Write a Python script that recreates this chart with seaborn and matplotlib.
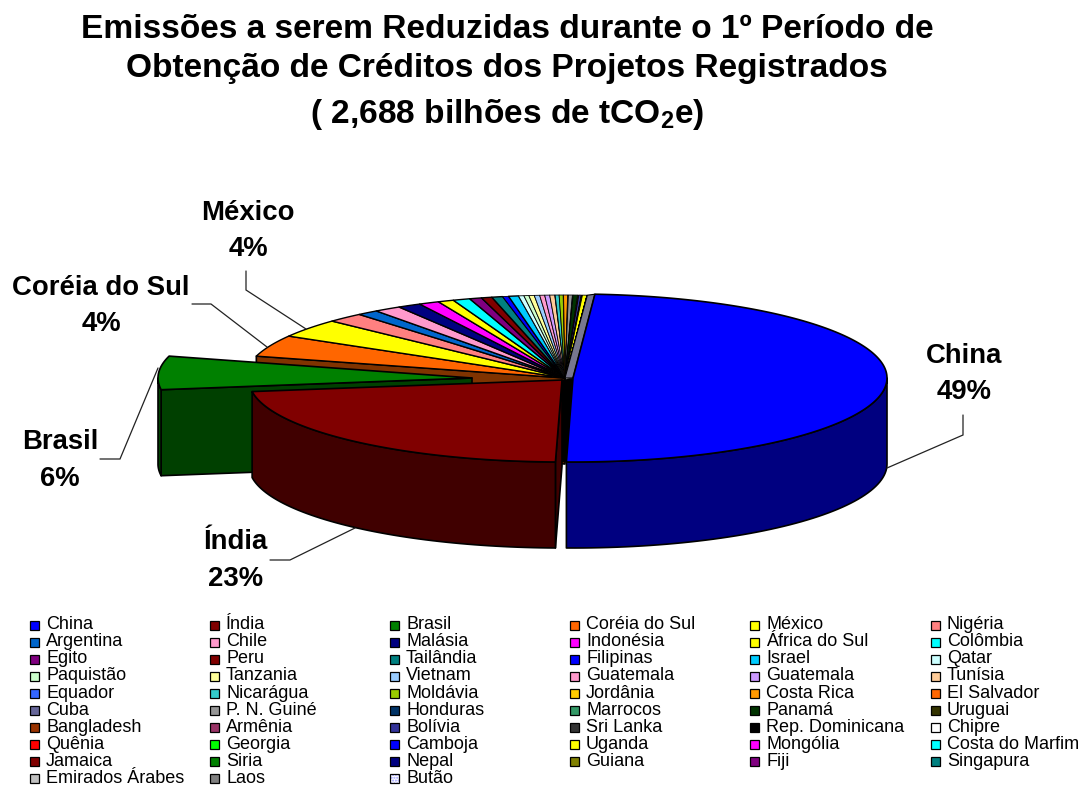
import numpy as np
import matplotlib
matplotlib.use("Agg")
import matplotlib.pyplot as plt
from matplotlib.patches import Polygon, Rectangle
from matplotlib.colors import to_rgb
import seaborn as sns

countries = [
    "China", "Índia", "Brasil", "Coréia do Sul", "México", "Nigéria",
    "Argentina", "Chile", "Malásia", "Indonésia", "África do Sul", "Colômbia",
    "Egito", "Peru", "Tailândia", "Filipinas", "Israel", "Qatar",
    "Paquistão", "Tanzania", "Vietnam", "Guatemala", "Guatemala", "Tunísia",
    "Equador", "Nicarágua", "Moldávia", "Jordânia", "Costa Rica", "El Salvador",
    "Cuba", "P. N. Guiné", "Honduras", "Marrocos", "Panamá", "Uruguai",
    "Bangladesh", "Armênia", "Bolívia", "Sri Lanka", "Rep. Dominicana", "Chipre",
    "Quênia", "Georgia", "Camboja", "Uganda", "Mongólia", "Costa do Marfim",
    "Jamaica", "Siria", "Nepal", "Guiana", "Fiji", "Singapura",
    "Emirados Árabes", "Laos", "Butão",
]
shares = [
    49.2, 22.4, 6.5, 4.17, 3.6, 1.86,
    1.08, 1.36, 1.17, 1.03, 0.8, 0.86,
    0.61, 0.53, 0.55, 0.3, 0.5, 0.27,
    0.25, 0.27, 0.27, 0.25, 0.25, 0.25,
    0.02, 0.2, 0.2, 0.02, 0.2, 0.02,
    0.02, 0.2, 0.02, 0.02, 0.22, 0.02,
    0.02, 0.02, 0.12, 0.01, 0.01, 0.01,
    0.01, 0.01, 0.01, 0.22, 0.002, 0.002,
    0.002, 0.002, 0.002, 0.002, 0.002, 0.002,
    0.002, 0.002, 0.002,
]
colors = [
    "#0000FF", "#800000", "#008000", "#FF6600", "#FFFF00", "#FF8080",
    "#0066CC", "#FF99CC", "#000080", "#FF00FF", "#FFFF00", "#00FFFF",
    "#800080", "#800000", "#008080", "#0000FF", "#00CCFF", "#CCFFFF",
    "#CCFFCC", "#FFFF99", "#99CCFF", "#FF99CC", "#CC99FF", "#FFCC99",
    "#3366FF", "#33CCCC", "#99CC00", "#FFCC00", "#FF9900", "#FF6600",
    "#666699", "#969696", "#003366", "#339966", "#003300", "#333300",
    "#993300", "#993366", "#333399", "#333333", "#000000", "#FFFFFF",
    "#FF0000", "#00FF00", "#0000FF", "#FFFF00", "#FF00FF", "#00FFFF",
    "#800000", "#008000", "#000080", "#808000", "#800080", "#008080",
    "#C0C0C0", "#808080", "#CCCCFF",
]

title_lines = [
    "Emissões a serem Reduzidas durante o 1º Período de",
    "Obtenção de Créditos dos Projetos Registrados",
    r"( 2,688 bilhões de tCO$\mathbf{_2}$e)",
]
labelled = ["China", "Índia", "Brasil", "Coréia do Sul", "México"]
label_percents = ["49%", "23%", "6%", "4%", "4%"]

sns.set_theme(style="white")
plt.rcParams["font.family"] = ["Liberation Sans", "DejaVu Sans"]
plt.rcParams["text.color"] = "black"
plt.rcParams["mathtext.fontset"] = "custom"
plt.rcParams["mathtext.bf"] = "Liberation Sans:bold"
palette = sns.color_palette(colors)

START_ANGLE = 86
DEPTH = 86

# slice centres once they are pulled out of the pie
china_center = (573, 378, 314, 84)
india_center = (562, 380, 313, 82)
brasil_center = (472, 378, 314, 83)
rest_center = (565, 378, 320, 83)


def rim(center, t1, t2, n=60):
    """Points on the top ellipse between two angles in degrees"""
    cx, cy, rx, ry = center
    t = np.radians(np.linspace(t1, t2, n))
    return np.column_stack([cx + rx * np.cos(t), cy - ry * np.sin(t)])


def dark(color):
    return tuple(c * 0.5 for c in to_rgb(color))


def add_poly(ax, pts, color, lw=1.0, edge="black"):
    ax.add_patch(Polygon(pts, closed=True, facecolor=color, edgecolor=edge,
                         linewidth=lw, joinstyle="round"))


def top_slice(ax, center, t1, t2, color, lw=1.0):
    n = max(3, int(abs(t1 - t2)) + 2)
    pts = np.vstack([[center[:2]], rim(center, t1, t2, n)])
    add_poly(ax, pts, color, lw)


def side_wall(ax, center, t1, t2, color):
    top = rim(center, t1, t2)
    bottom = top[::-1] + [0, DEPTH]
    add_poly(ax, np.vstack([top, bottom]), dark(color), 1.2)


def cut_face(ax, center, t, color):
    cx, cy = center[:2]
    p = rim(center, t, t, 1)[0]
    pts = [(cx, cy), p, (p[0], p[1] + DEPTH), (cx, cy + DEPTH)]
    add_poly(ax, pts, dark(color), 1.2)


fig, ax = plt.subplots(figsize=(10.82, 7.86), dpi=100)
fig.subplots_adjust(left=0, right=1, top=1, bottom=0)
ax.set_xlim(0, 1082)
ax.set_ylim(786, 0)
ax.axis("off")

# title
for line, y in zip(title_lines, [29, 68, 114]):
    ax.text(507, y, line, fontsize=24.15, fontweight="bold",
            ha="center", va="center")

# angles of every slice, clockwise from the back of the pie
fractions = np.array(shares) / sum(shares)
edges = START_ANGLE - 360 * np.concatenate([[0], np.cumsum(fractions)])
starts, ends = edges[:-1], edges[1:]

# rest of the pie sits at the back
cut_face(ax, rest_center, starts[3], palette[3])
for i in range(3, len(shares)):
    if shares[i] < 0.1:
        width = 0.3
    elif shares[i] < 0.5:
        width = 0.6
    else:
        width = 1.0
    top_slice(ax, rest_center, starts[i], ends[i], palette[i], width)

# grey band and black gap between the slices in the middle
china_rear = rim(china_center, starts[0], starts[0], 1)[0]
rest_rear = rim(rest_center, ends[-1], ends[-1], 1)[0]
add_poly(ax, [rest_rear, china_rear, china_center[:2], rest_center[:2]],
         "#77778F", 0.8)
china_front = rim(china_center, ends[0], ends[0], 1)[0]
india_front = rim(india_center, starts[1], starts[1], 1)[0]
add_poly(ax, [india_center[:2], china_center[:2], china_front, india_front],
         "black", 0.5)

# Brasil, pulled far out to the left
cut_face(ax, brasil_center, starts[2] + 360, palette[2])
side_wall(ax, brasil_center, 180, starts[2] + 360, palette[2])
top_slice(ax, brasil_center, starts[2] + 360, ends[2] + 360, palette[2], 1.2)

# India
cut_face(ax, india_center, starts[1] + 360, palette[1])
side_wall(ax, india_center, ends[1] + 360, starts[1] + 360, palette[1])
top_slice(ax, india_center, starts[1] + 360, ends[1] + 360, palette[1], 1.2)

# China
side_wall(ax, china_center, 0, ends[0], palette[0])
top_slice(ax, china_center, starts[0], ends[0], palette[0], 1.2)

# callouts
label_xy = [(964, 356, 392), (236, 542, 579), (60, 442, 479),
            (101, 288, 324), (248, 213, 249)]
leaders = [
    [(887, 468), (963, 435), (963, 415)],
    [(355, 528), (290, 560), (270, 560)],
    [(158, 368), (120, 459), (100, 459)],
    [(267, 347), (211, 304), (192, 304)],
    [(306, 329), (246, 290), (246, 271)],
]
for name, pct, (x, y1, y2), path in zip(labelled, label_percents, label_xy, leaders):
    ax.text(x, y1, name, fontsize=19.8, fontweight="bold", ha="center", va="center")
    ax.text(x, y2, pct, fontsize=19.8, fontweight="bold", ha="center", va="center")
    px, py = zip(*path)
    ax.plot(px, py, color="#222222", lw=0.9, solid_joinstyle="miter")

# legend, filled row by row
col_x = [30, 210, 390, 570, 750, 931]
row_step = 17.1
for i, name in enumerate(countries):
    row, col = divmod(i, 6)
    x = col_x[col]
    y = 625 + row * row_step
    if name == "Butão":
        ax.add_patch(Rectangle((x, y - 4.5), 9, 9, facecolor="white",
                               edgecolor="#9999FF", hatch="......", linewidth=0))
        ax.add_patch(Rectangle((x, y - 4.5), 9, 9, fill=False,
                               edgecolor="black", linewidth=0.9))
    else:
        ax.add_patch(Rectangle((x, y - 4.5), 9, 9, facecolor=palette[i],
                               edgecolor="black", linewidth=0.9))
    ax.text(x + 16, y - 0.3, name, fontsize=12.95, ha="left", va="center")

fig.savefig("out.png", dpi=100)
